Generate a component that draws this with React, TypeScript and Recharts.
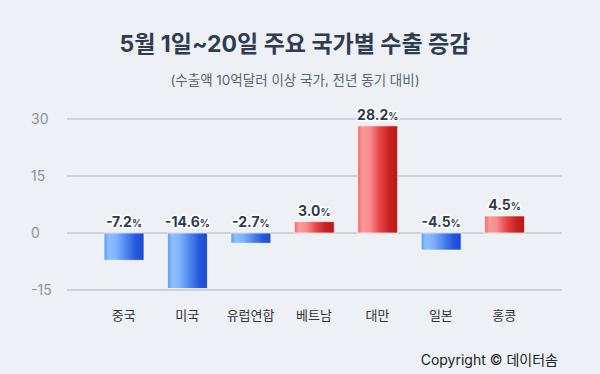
import { Bar, BarChart, CartesianGrid, Cell, LabelList, XAxis, YAxis } from "recharts";

const countries = ["중국", "미국", "유럽연합", "베트남", "대만", "일본", "홍콩"];
const changes = [-7.2, -14.6, -2.7, 3.0, 28.2, -4.5, 4.5];
const yTicks = [-15, 0, 15, 30];

const chartData = countries.map((name, i) => ({ name, value: changes[i] }));

const FONT = "Inter, 'Noto Sans CJK KR', 'Noto Sans', sans-serif";

// eslint-disable-next-line @typescript-eslint/no-explicit-any
function ValueLabel(props: any) {
  const { x, y, width, height, index } = props;
  const v = changes[index];
  const top = Math.min(y, y + height);
  return (
    <text
      x={x + width / 2}
      y={top - 6}
      textAnchor="middle"
      fontFamily={FONT}
      fill="#2d3a4f"
      stroke="#ffffff"
      strokeWidth={3}
      strokeLinejoin="round"
      paintOrder="stroke"
    >
      <tspan fontSize={14} fontWeight={700}>
        {v.toFixed(1)}
      </tspan>
      <tspan fontSize={10} fontWeight={700}>
        %
      </tspan>
    </text>
  );
}

// eslint-disable-next-line @typescript-eslint/no-explicit-any
function YTick(props: any) {
  const { x, y, payload } = props;
  return (
    <text x={x - 28} y={y} dy={5} textAnchor="start" fontFamily={FONT} fontSize={14} fill="#8d95a1">
      {payload.value}
    </text>
  );
}

export default function App() {
  return (
    <div
      style={{
        position: "relative",
        width: 600,
        height: 374,
        background: "#edf1f6",
        fontFamily: FONT,
        overflow: "hidden",
      }}
    >
      <style>{`body{margin:0}`}</style>
      <svg width={0} height={0} style={{ position: "absolute" }}>
        <defs>
          <linearGradient id="gradBlue" x1="0" y1="0" x2="1" y2="0">
            <stop offset="0%" stopColor="#5e9cf2" />
            <stop offset="12%" stopColor="#8cc0ff" />
            <stop offset="30%" stopColor="#7fb3fb" />
            <stop offset="55%" stopColor="#4f86ee" />
            <stop offset="80%" stopColor="#2458de" />
            <stop offset="100%" stopColor="#1c49d2" />
          </linearGradient>
          <linearGradient id="gradRed" x1="0" y1="0" x2="1" y2="0">
            <stop offset="0%" stopColor="#f06868" />
            <stop offset="12%" stopColor="#fb9a9a" />
            <stop offset="30%" stopColor="#f78d8d" />
            <stop offset="55%" stopColor="#e84545" />
            <stop offset="80%" stopColor="#c82020" />
            <stop offset="100%" stopColor="#b81a1a" />
          </linearGradient>
        </defs>
      </svg>

      <div
        style={{
          position: "absolute",
          top: 28,
          left: 0,
          width: 590,
          textAlign: "center",
          fontSize: 23,
          fontWeight: 700,
          color: "#2f3b4f",
          lineHeight: "32px",
        }}
      >
        5월 1일~20일 주요 국가별 수출 증감
      </div>
      <div
        style={{
          position: "absolute",
          top: 71,
          left: 0,
          width: 590,
          textAlign: "center",
          fontSize: 13.5,
          color: "#5b6472",
          lineHeight: "18px",
        }}
      >
        (수출액 10억달러 이상 국가, 전년 동기 대비)
      </div>

      <div style={{ position: "absolute", top: 0, left: 0 }}>
        <BarChart
          width={600}
          height={374}
          data={chartData}
          margin={{ top: 119, right: 38, left: 0, bottom: 54 }}
          barSize={40}
        >
          <CartesianGrid vertical={false} stroke="#c3c8cf" strokeWidth={1.5} />
          <XAxis
            dataKey="name"
            axisLine={false}
            tickLine={false}
            tickMargin={15}
            height={30}
            padding={{ left: 25, right: 26 }}
            tick={{ fill: "#333333", fontSize: 13, fontFamily: FONT }}
            interval={0}
          />
          <YAxis
            width={67}
            domain={[-15, 30]}
            ticks={yTicks}
            axisLine={false}
            tickLine={false}
            tick={<YTick />}
            interval={0}
          />
          <Bar
            dataKey="value"
            isAnimationActive={false}
            stroke="#ffffff"
            strokeOpacity={0.7}
            strokeWidth={1}
          >
            {chartData.map((d, i) => (
              <Cell key={i} fill={d.value < 0 ? "url(#gradBlue)" : "url(#gradRed)"} />
            ))}
            <LabelList dataKey="value" content={<ValueLabel />} />
          </Bar>
        </BarChart>
      </div>

      <div
        style={{
          position: "absolute",
          right: 42,
          top: 350,
          fontSize: 14,
          color: "#222222",
          lineHeight: "20px",
        }}
      >
        Copyright © 데이터솜
      </div>
    </div>
  );
}
